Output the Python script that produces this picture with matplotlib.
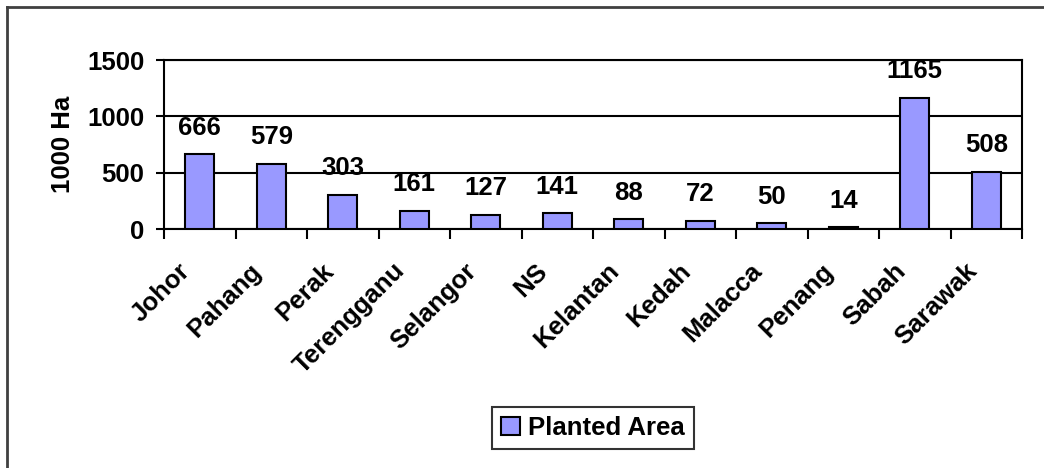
import matplotlib
matplotlib.use("Agg")
from matplotlib import pyplot as plt
import matplotlib.patches as mpatches
import matplotlib.lines as mlines
import matplotlib.transforms as mtransforms
import numpy

states = ["Johor", "Pahang", "Perak", "Terengganu", "Selangor", "NS",
          "Kelantan", "Kedah", "Malacca", "Penang", "Sabah", "Sarawak"]
planted = [666, 579, 303, 161, 127, 141, 88, 72, 50, 14, 1165, 508]
yticks = [0, 500, 1000, 1500]

FS = 18.5

plt.rcParams["font.family"] = ["Liberation Sans", "DejaVu Sans"]
plt.rcParams["font.weight"] = "bold"

fig = plt.figure(figsize=(10.44, 4.68), dpi=100)
ax = fig.add_axes([164/1044, 1 - 229/468, (1022-164)/1044, (229-60)/468])

x = numpy.arange(len(states))
bars = ax.bar(x, planted, width=0.41, color="#9999FF", edgecolor="black",
              linewidth=1.5, zorder=3)

for xi, v in zip(x, planted):
    ax.annotate(str(v), (xi, v), xytext=(0, 14), textcoords="offset points",
                ha="center", va="baseline", fontsize=FS, fontweight="bold",
                zorder=4, annotation_clip=False)

ax.set_xlim(-0.5, len(states) - 0.5)
ax.set_ylim(0, 1500)
ax.set_yticks(yticks)
ax.set_yticklabels([str(t) for t in yticks], fontsize=FS, fontweight="bold")
ax.tick_params(axis="y", direction="out", length=6, width=1.5, pad=8)

# ticks between categories, labels at the centres
ax.set_xticks(numpy.arange(len(states) + 1) - 0.5)
ax.set_xticklabels([])
ax.tick_params(axis="x", which="major", direction="out", length=7, width=1.5)
ax.set_xticks(x, minor=True)
ax.set_xticklabels(states, minor=True, rotation=45, ha="right", va="center",
                   rotation_mode="anchor", fontsize=FS, fontweight="bold")
ax.tick_params(axis="x", which="minor", length=0, pad=27.5)
shift = mtransforms.ScaledTranslation(-9.5/72, 0, fig.dpi_scale_trans)
for lab in ax.get_xticklabels(minor=True):
    lab.set_transform(lab.get_transform() + shift)

ax.grid(axis="y", color="black", linewidth=1.5, zorder=1)
ax.set_axisbelow(True)
for s in ax.spines.values():
    s.set_linewidth(1.5)
    s.set_color("black")

ax.set_ylabel("1000 Ha", fontsize=FS, fontweight="bold")
ax.yaxis.set_label_coords(-0.104, 0.5)

patch = mpatches.Patch(facecolor="#9999FF", edgecolor="black", linewidth=1.5,
                       label="Planted Area")
leg = fig.legend(handles=[patch], loc="center", bbox_to_anchor=(593/1044, 1 - 428/468),
                 prop={"weight": "bold", "size": FS}, frameon=True,
                 fancybox=False, handlelength=0.75, handleheight=0.75,
                 handletextpad=0.3, borderpad=0.35)
leg.get_frame().set_edgecolor("black")
leg.get_frame().set_linewidth(1.5)

# outer chart frame (only left and top edges visible)
fig.add_artist(mlines.Line2D([7/1044, 7/1044], [0, 1 - 7/468],
                             color="#404040", linewidth=2, transform=fig.transFigure))
fig.add_artist(mlines.Line2D([7/1044, 1], [1 - 7/468, 1 - 7/468],
                             color="#404040", linewidth=2, transform=fig.transFigure))

fig.savefig("out.png", dpi=100)
